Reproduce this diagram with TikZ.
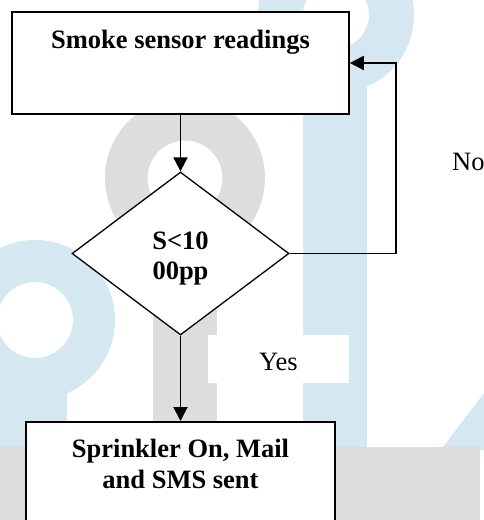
\documentclass[tikz,border=0pt]{standalone}
\usepackage{fontspec}
\setmainfont{Liberation Serif}
\usetikzlibrary{shapes.geometric,arrows.meta}
\definecolor{markblue}{RGB}{213,231,241}
\definecolor{markgrey}{RGB}{221,221,223}
\begin{document}
\begin{tikzpicture}[x=1pt,y=-1pt,
  every node/.style={font=\fontsize{26.5}{30.5}\selectfont},
  stepbox/.style={draw, line width=1.6pt, fill=white, inner xsep=0pt, inner ysep=0pt},
  decision/.style={draw, diamond, line width=1.3pt, fill=white,
    minimum width=217pt, minimum height=163pt, inner sep=0pt},
  flow/.style={line width=1.9pt, -{Triangle[length=14pt,width=14pt]}},
  lbl/.style={anchor=base west, inner sep=0pt}]

\useasboundingbox (0,0) rectangle (484,520);
\clip (0,0) rectangle (484,520);

% background logo shapes
\fill[markblue, even odd rule] (336,15) circle[radius=78pt] (336,15) circle[radius=33pt];
\fill[markblue] (303,60) rectangle (367,450);
\fill[markblue, even odd rule] (35,320) circle[radius=80pt] (35,320) circle[radius=38pt];
\fill[markblue] (0,390) rectangle (67,450);
\fill[markblue] (443,447) -- (484,393) -- (484,450) -- cycle;
\fill[markgrey, even odd rule] (185,178) circle[radius=80pt] (185,178) circle[radius=37.5pt];
\fill[markgrey] (153,225) rectangle (217,450);
\fill[markgrey] (0,447) rectangle (480,520);
\fill[white] (208,335) rectangle (349,383);

% flowchart
\node[stepbox, minimum width=337pt, text height=36pt, text depth=66pt] (sense)
  at (180.5,63) {\bfseries Smoke sensor readings};
\node[decision, text height=20pt, text depth=29pt] (dec) at (180.5,253.5)
  {\bfseries\begin{tabular}[t]{@{}c@{}}S<10\\00pp\end{tabular}};
\node[stepbox, anchor=north, minimum width=309pt, text height=36pt, text depth=120pt] (act)
  at (180.5,421) {\bfseries\begin{tabular}[t]{@{}c@{}}Sprinkler On, Mail\\and SMS sent\end{tabular}};

\coordinate (loop) at (396,63);
\draw[flow] (sense.south) -- (dec.north);
\draw[flow] (dec.east) -| (loop) -- (sense.east);
\draw[flow] (dec.south) -- (act.north);

\node[lbl] (no) at (452,170) {No};
\node[lbl] (yes) at (259,370) {Yes};
\end{tikzpicture}
\end{document}
